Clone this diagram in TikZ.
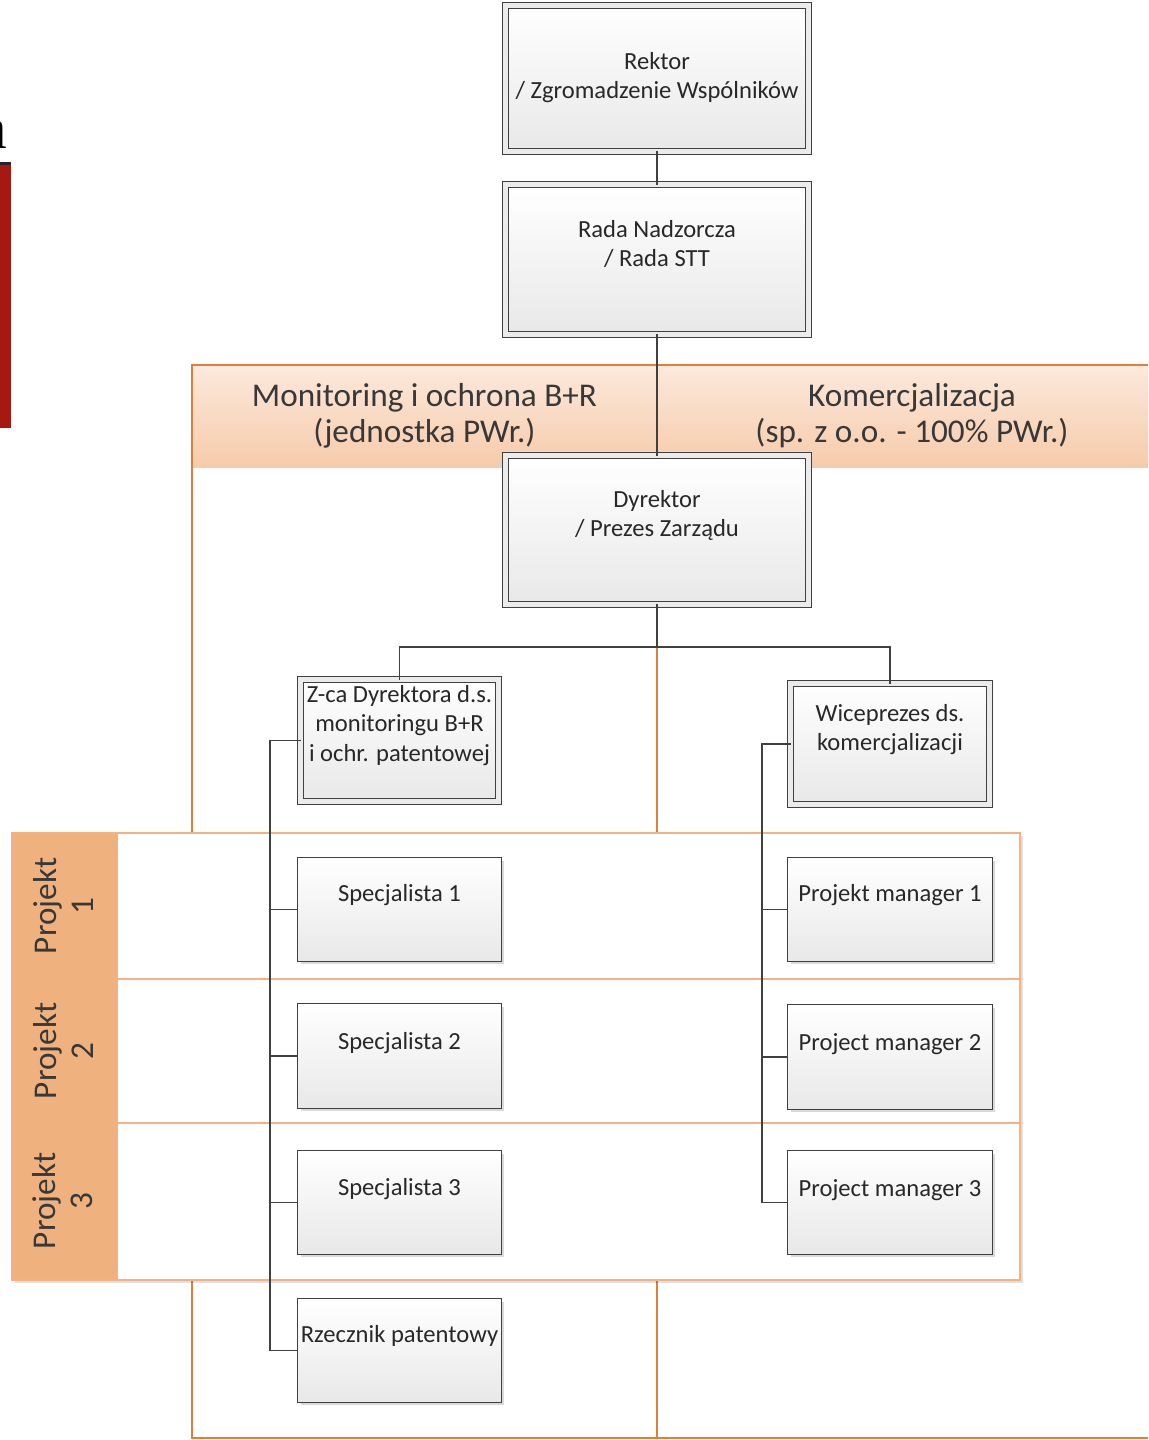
\documentclass[tikz,border=0pt]{standalone}
\usepackage{fontspec}
\setmainfont{Carlito}
\newfontfamily\serifa{Liberation Serif}
\usetikzlibrary{shadows}
\definecolor{lane}{RGB}{222,128,56}
\definecolor{bandline}{RGB}{244,177,131}
\definecolor{bandfill}{RGB}{239,178,127}
\definecolor{hdtop}{RGB}{252,233,220}
\definecolor{hdbot}{RGB}{246,203,170}
\definecolor{boxline}{RGB}{64,64,64}
\definecolor{boxbot}{RGB}{232,232,232}
\definecolor{txt}{RGB}{40,40,40}
\definecolor{redbar}{RGB}{165,25,17}
\newcommand\bxt[4]{\parbox[c][#2][t]{#1}{\centering\vspace*{#3}#4\par}}
\tikzset{
  boxbase/.style={inner sep=0pt, outer sep=0pt, draw=boxline, top color=white, bottom color=boxbot,
    text=txt, font=\fontsize{12.3}{14.8}\selectfont,
    drop shadow={shadow xshift=1.5pt, shadow yshift=-1.5pt, fill=black, opacity=0.15}},
  dbox/.style={boxbase, line width=0.7pt, double=white!92!black, double distance=2.2pt},
  sbox/.style={boxbase, line width=0.6pt},
  conn/.style={draw=boxline, line width=0.75pt},
  hdtext/.style={align=center, inner sep=0pt, text=black!78, font=\fontsize{16.6}{18}\selectfont},
  projlabel/.style={rotate=90, align=center, inner sep=0pt, text=black!78, font=\fontsize{16.6}{18.5}\selectfont},
  laneline/.style={draw=lane, line width=1pt},
  bandrule/.style={draw=bandline, line width=1pt}
}
\begin{document}
\begin{tikzpicture}[x=0.5pt,y=-0.5pt]
\useasboundingbox (0,0) rectangle (1148,1440);
\clip (0,0) rectangle (1148,1440);
% left margin fragments (cut off in the reference)
\node (frag) [anchor=base east, inner sep=0pt, font=\serifa\fontsize{30}{36}\selectfont] at (8,148) {a};
\fill[black!85] (0,162) rectangle (11,165);
\fill[redbar] (0,165) rectangle (11,428);
% swimlanes
\fill[white] (192,365) rectangle (1170,1438);
\shade[top color=hdtop, bottom color=hdbot] (192,365) rectangle (1170,467);
\draw[laneline] (192,365) rectangle (657,1438);
\draw[laneline] (657,365) rectangle (1170,1438);
\node (hl) [hdtext] at (424.5,416) {Monitoring i ochrona B+R\\(jednostka PWr.)};
\node (hr) [hdtext] at (912,416) {Komercjalizacja\\(sp. z o.o. - 100\% PWr.)};
% project band
\path[fill=white, drop shadow={shadow xshift=1.5pt, shadow yshift=-1.5pt, fill=black, opacity=0.12}] (12,833) rectangle (1020,1280);
\fill[bandfill] (12,833) rectangle (118,1280);
\draw[bandrule] (12,833) rectangle (1020,1280);
\draw[bandrule] (118,979) -- (1020,979);
\draw[bandrule] (118,1123) -- (1020,1123);
\node (p1) [projlabel] at (63,906) {Projekt\\1};
\node (p2) [projlabel] at (63,1051) {Projekt\\2};
\node (p3) [projlabel] at (63,1201) {Projekt\\3};
% boxes
\node (rektor) [dbox] at (657,78.5) {\bxt{151.4pt}{72.9pt}{23.3pt}{Rektor\\/ Zgromadzenie Wspólników}};
\node (rada) [dbox] at (657,259.5) {\bxt{151.4pt}{74.9pt}{17.8pt}{Rada Nadzorcza\\/ Rada STT}};
\node (dyr) [dbox] at (657,530) {\bxt{151.4pt}{74.4pt}{17.3pt}{Dyrektor\\/ Prezes Zarządu}};
\node (zca) [dbox] at (399.5,740.5) {\bxt{98.9pt}{60.9pt}{2.8pt}{Z-ca Dyrektora d.s.\\monitoringu B+R\\i ochr. patentowej}};
\node (wice) [dbox] at (890,744) {\bxt{99.4pt}{60.4pt}{10.3pt}{Wiceprezes ds.\\komercjalizacji}};
\node (s1) [sbox] at (399.5,909.5) {\bxt{101.9pt}{51.9pt}{13.3pt}{Specjalista 1}};
\node (s2) [sbox] at (399.5,1056) {\bxt{101.9pt}{52.4pt}{14.3pt}{Specjalista 2}};
\node (s3) [sbox] at (399.5,1202.5) {\bxt{101.9pt}{51.9pt}{13.8pt}{Specjalista 3}};
\node (rz) [sbox] at (399.5,1350.5) {\bxt{101.9pt}{51.9pt}{13.3pt}{Rzecznik patentowy}};
\node (pm1) [sbox] at (890,909.5) {\bxt{102.4pt}{51.9pt}{13.3pt}{Projekt manager 1}};
\node (pm2) [sbox] at (890,1057) {\bxt{102.4pt}{52.4pt}{14.3pt}{Project manager 2}};
\node (pm3) [sbox] at (890,1202.5) {\bxt{102.4pt}{51.9pt}{14.3pt}{Project manager 3}};
% connectors
\coordinate (bus) at (657,647);
\coordinate (lt) at (270,740.5);
\coordinate (rt) at (762,744);
\draw[conn] (rektor.south) -- (rada.north);
\draw[conn] (rada.south) -- (dyr.north);
\draw[conn] (dyr.south) -- (bus) -| (zca.north);
\draw[conn] (bus) -| (wice.north);
\draw[conn] (zca.west) -- (lt) |- (rz.west);
\draw[conn] (lt) |- (s1.west);
\draw[conn] (lt) |- (s2.west);
\draw[conn] (lt) |- (s3.west);
\draw[conn] (wice.west) -- (rt) |- (pm3.west);
\draw[conn] (rt) |- (pm1.west);
\draw[conn] (rt) |- (pm2.west);
\end{tikzpicture}
\end{document}
